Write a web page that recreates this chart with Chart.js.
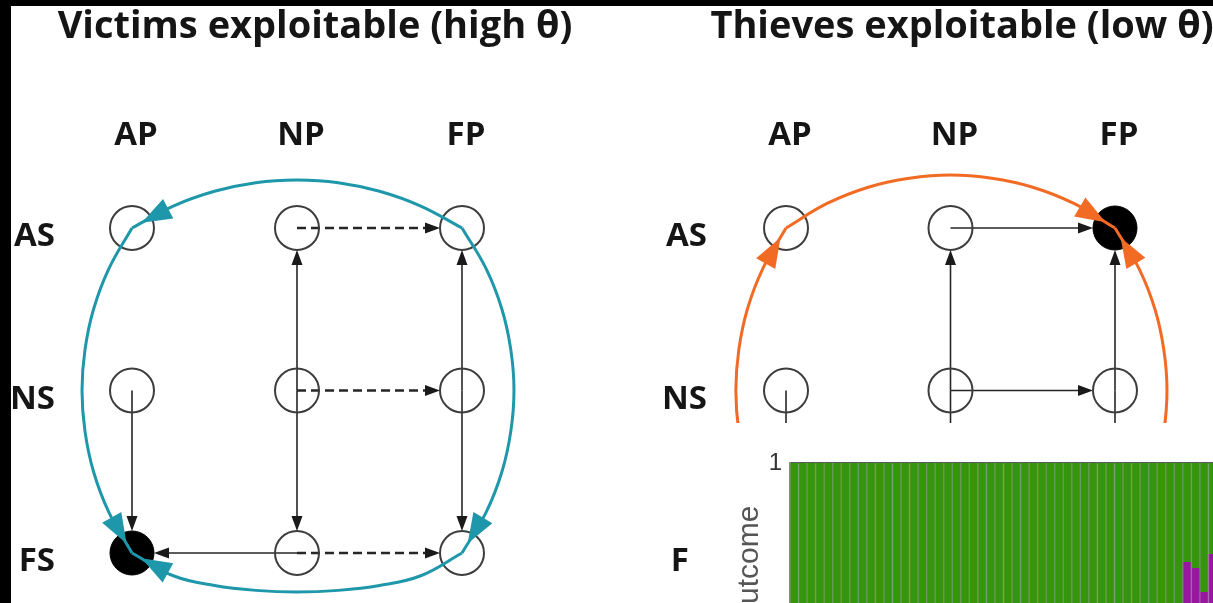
<!DOCTYPE html>
<html><head><meta charset="utf-8">
<script src="https://cdn.jsdelivr.net/npm/chart.js@4.4.1/dist/chart.umd.min.js"></script>
<style>
html,body{margin:0;padding:0;background:#fff;overflow:hidden;width:1213px;height:603px;position:relative;}
.abs{position:absolute;}
#leftC{left:0;top:0;}
#rightC{left:640px;top:0;}
#insetBox{left:690px;top:423px;width:560px;height:280px;background:#fff;z-index:2;}
#bandTop{left:0;top:0;width:1213px;height:6px;background:#000;z-index:5;}
#bandLeft{left:0;top:0;width:11px;height:603px;background:#000;z-index:5;}
</style></head>
<body>
<canvas id="leftC" class="abs" width="630" height="603"></canvas>
<canvas id="rightC" class="abs" width="644" height="603"></canvas>
<div id="insetBox" class="abs"><canvas id="insetC" width="527" height="247"></canvas></div>
<div id="bandTop" class="abs"></div>
<div id="bandLeft" class="abs"></div>
<script>
// ---------- data ----------
const columns = ['AP', 'NP', 'FP'];
const rows = ['AS', 'NS', 'FS'];
const leftTitle = 'Victims exploitable (high θ)';
const rightTitle = 'Thieves exploitable (low θ)';
// states as [column index, row index]
const allStates = [[0,0],[1,0],[2,0],[0,1],[1,1],[2,1],[0,2],[1,2],[2,2]];
const victimsStable = [[0,2]];
const thievesStable = [[2,0]];
// transitions [fromCol, fromRow, toCol, toRow]
const victimsSolidEdges = [[0,1,0,2],[1,1,1,0],[1,1,1,2],[2,1,2,0],[2,1,2,2],[1,2,0,2]];
const victimsDashedEdges = [[1,0,2,0],[1,1,2,1],[1,2,2,2]];
const thievesSolidEdges = [[1,0,2,0],[1,1,1,0],[2,1,2,0],[1,1,2,1],[0,1,0,2],[1,1,1,2],[2,1,2,2]];
const thievesDashedEdges = [];
// cycle arcs (waypoints, in state units)
const victimsArcTop = [[2,0],[1.75,-0.135],[1.5,-0.226],[1.25,-0.279],[1,-0.295],[0.75,-0.279],[0.5,-0.226],[0.25,-0.135],[0,0]];
const victimsArcLeft = [[0,0],[-0.14,0.25],[-0.233,0.5],[-0.285,0.75],[-0.303,1],[-0.285,1.25],[-0.233,1.5],[-0.14,1.75],[0,2]];
const victimsArcRight = [[2,0],[2.146,0.25],[2.242,0.5],[2.296,0.75],[2.315,1],[2.296,1.25],[2.242,1.5],[2.146,1.75],[2,2]];
const victimsArcBottom = [[2,2],[1.75,2.14],[1.5,2.2],[1.25,2.23],[1,2.24],[0.75,2.23],[0.5,2.2],[0.25,2.14],[0,2]];
const thievesArcTop = [[0,0],[0.25,-0.151],[0.5,-0.251],[0.75,-0.306],[1,-0.326],[1.25,-0.306],[1.5,-0.251],[1.75,-0.151],[2,0]];
const thievesArcLeft = [[0,2],[-0.141,1.75],[-0.235,1.5],[-0.287,1.25],[-0.305,1],[-0.287,0.75],[-0.235,0.5],[-0.141,0.25],[0,0]];
const thievesArcRight = [[2,2],[2.146,1.75],[2.243,1.5],[2.297,1.25],[2.316,1],[2.297,0.75],[2.243,0.5],[2.146,0.25],[2,0]];
// inset bar chart
const trials = [1,2,3,4,5,6,7,8,9,10,11,12,13,14,15,16,17,18,19,20,21,22,23,24,25,26,27,28,29,30,31,32,33,34,35,36,37,38,39,40,41,42,43,44,45,46,47,48,49,50];
const outcomeGreen = [1,1,1,1,1,1,1,1,1,1,1,1,1,1,1,1,1,1,1,1,1,1,1,1,1,1,1,1,1,1,1,1,1,1,1,1,1,1,1,1,1,1,1,1,1,1,0.478,0.507,0.623,0.44];
const outcomePurple = [0,0,0,0,0,0,0,0,0,0,0,0,0,0,0,0,0,0,0,0,0,0,0,0,0,0,0,0,0,0,0,0,0,0,0,0,0,0,0,0,0,0,0,0,0,0,0.522,0.493,0.377,0.56];
const outcomeTicks = [0, 1];

// ---------- styles ----------
const TEAL = '#1f97aa', ORANGE = '#f26b24';
const labelFont = {family: 'Open Sans', size: 33, weight: 'bold'};
const titleFont = {family: 'Open Sans', size: 38, weight: 'bold'};
const NODE_R = 22;

function toXY(arr) { return arr.map(([x, y]) => ({x, y})); }

function arcDataset(points, color) {
  return {data: toXY(points), showLine: true, borderColor: color, borderWidth: 3, tension: 0.4,
    pointRadius: 0, fill: false, clip: false, capBezierPoints: false, arrowColor: color, order: 0};
}

const arcArrows = {
  id: 'arcArrows',
  afterDatasetsDraw(chart) {
    const ctx = chart.ctx;
    chart.data.datasets.forEach((ds, i) => {
      if (!ds.arrowColor) return;
      const pts = chart.getDatasetMeta(i).data;
      const end = pts[pts.length - 1], prev = pts[pts.length - 2];
      let dx = end.x - (end.cp1x ?? prev.x), dy = end.y - (end.cp1y ?? prev.y);
      const len = Math.hypot(dx, dy) || 1; dx /= len; dy /= len;
      const inset = 11, L = 30, W = 11;
      const tx = end.x - dx * inset, ty = end.y - dy * inset;
      const bx = tx - dx * L, by = ty - dy * L;
      ctx.save();
      ctx.fillStyle = ds.arrowColor;
      ctx.beginPath();
      ctx.moveTo(tx, ty);
      ctx.lineTo(bx - dy * W, by + dx * W);
      ctx.lineTo(bx + dy * W, by - dx * W);
      ctx.closePath(); ctx.fill();
      ctx.restore();
    });
  }
};

function edgePlugin(solid, dashed) {
  return {
    id: 'stateEdges',
    beforeDatasetsDraw(chart) {
      const xs = chart.scales.x, ys = chart.scales.y, ctx = chart.ctx;
      const draw = (edges, isDashed) => edges.forEach(([c1, r1, c2, r2]) => {
        const x1 = xs.getPixelForValue(c1), y1 = ys.getPixelForValue(r1);
        const x2 = xs.getPixelForValue(c2), y2 = ys.getPixelForValue(r2);
        const len = Math.hypot(x2 - x1, y2 - y1), ux = (x2 - x1) / len, uy = (y2 - y1) / len;
        const tx = x2 - ux * NODE_R, ty = y2 - uy * NODE_R;
        const L = 15, W = 5.5;
        ctx.save();
        ctx.strokeStyle = '#262626';
        ctx.lineWidth = isDashed ? 2.6 : 1.6;
        ctx.setLineDash(isDashed ? [9, 5] : []);
        ctx.beginPath(); ctx.moveTo(x1, y1); ctx.lineTo(tx - ux * L * 0.7, ty - uy * L * 0.7); ctx.stroke();
        ctx.setLineDash([]);
        ctx.fillStyle = '#1a1a1a';
        const bx = tx - ux * L, by = ty - uy * L;
        ctx.beginPath(); ctx.moveTo(tx, ty);
        ctx.lineTo(bx - uy * W, by + ux * W); ctx.lineTo(bx + uy * W, by - ux * W);
        ctx.closePath(); ctx.fill();
        ctx.restore();
      });
      draw(solid, false); draw(dashed, true);
    }
  };
}

function panel(canvasId, title, stable, arcs, color, solid, dashed, xMin, xMax, yAxisWidth, rowPad) {
  const isStable = (s) => stable.some(t => t[0] === s[0] && t[1] === s[1]);
  const datasets = arcs.map(a => arcDataset(a, color));
  datasets.push({data: toXY(stable), pointRadius: NODE_R, pointBackgroundColor: '#000', pointBorderColor: '#000', pointBorderWidth: 1, clip: false, order: 1});
  datasets.push({data: toXY(allStates.filter(s => !isStable(s))), pointRadius: NODE_R, pointBackgroundColor: 'rgba(0,0,0,0)', pointBorderColor: '#3d3d3d', pointBorderWidth: 2, clip: false, order: 2});
  return new Chart(document.getElementById(canvasId), {
    type: 'scatter',
    data: {datasets},
    options: {
      responsive: false, animation: false, devicePixelRatio: 1, events: [],
      layout: {padding: 0, autoPadding: false},
      plugins: {
        legend: {display: false}, tooltip: {enabled: false},
        title: {display: true, text: title, color: '#151515', font: titleFont, padding: {top: 4, bottom: 10}}
      },
      scales: {
        x: {type: 'linear', position: 'top', min: xMin, max: xMax,
          grid: {display: false, drawTicks: false}, border: {display: false},
          afterBuildTicks: s => { s.ticks = columns.map((_, i) => ({value: i})); },
          afterFit: s => { s.height = 100.4; s.paddingLeft = 0; s.paddingRight = 0; },
          ticks: {callback: v => columns[v], font: labelFont, color: '#151515', padding: 5, labelOffset: 4, autoSkip: false, maxRotation: 0}},
        y: {type: 'linear', reverse: true, min: -0.4185, max: 2.3077,
          grid: {display: false, drawTicks: false}, border: {display: false},
          afterBuildTicks: s => { s.ticks = rows.map((_, i) => ({value: i})); },
          afterFit: s => { s.width = yAxisWidth; s.paddingTop = 0; s.paddingBottom = 0; },
          ticks: {callback: v => rows[v], font: labelFont, color: '#151515', padding: rowPad, labelOffset: 9, autoSkip: false}}
      }
    },
    plugins: [edgePlugin(solid, dashed), arcArrows]
  });
}

panel('leftC', leftTitle, victimsStable, [victimsArcTop, victimsArcLeft, victimsArcRight, victimsArcBottom], TEAL,
  victimsSolidEdges, victimsDashedEdges, -0.4242, 3.0182, 62, 7);
panel('rightC', rightTitle, thievesStable, [thievesArcTop, thievesArcLeft, thievesArcRight], ORANGE,
  thievesSolidEdges, thievesDashedEdges, -0.4195, 3.0274, 77, 10);

new Chart(document.getElementById('insetC'), {
  type: 'bar',
  data: {labels: trials, datasets: [
    {label: 'purple', data: outcomePurple, backgroundColor: '#97179f', borderColor: '#a45aa9', borderWidth: {left: 1, right: 1, top: 0, bottom: 0}, barPercentage: 1, categoryPercentage: 1},
    {label: 'green', data: outcomeGreen, backgroundColor: '#35950d', borderColor: '#6c985c', borderWidth: {left: 1, right: 1, top: 0, bottom: 0}, barPercentage: 1, categoryPercentage: 1}
  ]},
  options: {
    responsive: false, animation: false, devicePixelRatio: 1, events: [],
    layout: {padding: {left: 38, top: 40, right: 0, bottom: 0}, autoPadding: false},
    plugins: {legend: {display: false}, tooltip: {enabled: false}},
    scales: {
      x: {stacked: true, display: false},
      x2: {position: 'top', display: true, grid: {display: false, drawTicks: false}, ticks: {display: false},
        border: {display: true, color: '#5a5a5a', width: 2}, z: 1,
        afterFit: s => { s.height = 0; s.paddingLeft = 0; s.paddingRight = 0; }},
      y: {stacked: true, min: 0, max: 1,
        afterBuildTicks: s => { s.ticks = outcomeTicks.map(v => ({value: v})); },
        grid: {display: false, drawTicks: false}, border: {display: true, color: '#8a8a8a', width: 2}, z: 1,
        ticks: {color: '#333', font: {family: 'Liberation Sans', size: 24}, padding: 8},
        title: {display: true, text: 'Outcome', color: '#555', font: {family: 'Liberation Sans', size: 30}},
        afterFit: s => { s.width = 62; s.paddingTop = 0; s.paddingBottom = 0; }}
    }
  }
});
</script>
</body></html>
